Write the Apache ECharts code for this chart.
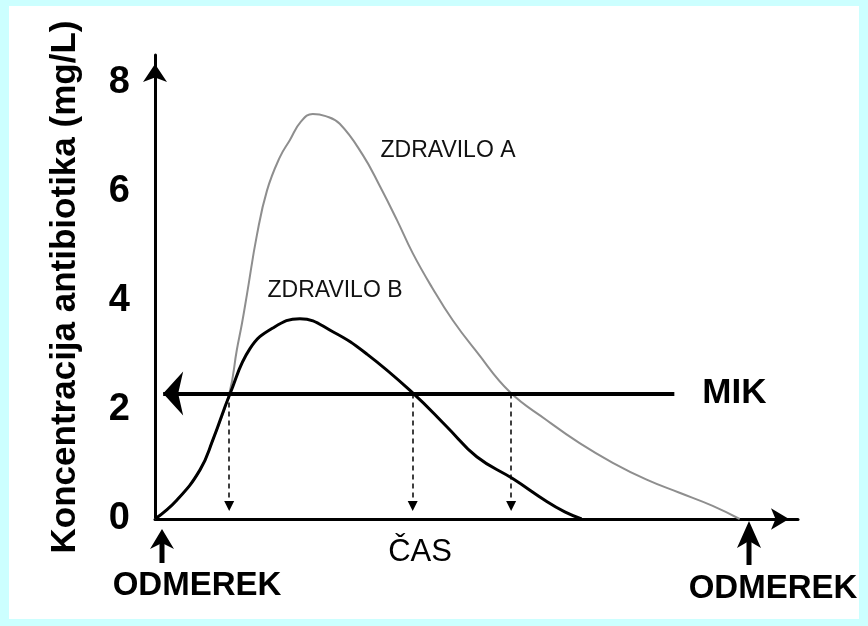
<!DOCTYPE html>
<html>
<head>
<meta charset="utf-8">
<script src="https://cdn.jsdelivr.net/npm/echarts@6/dist/echarts.min.js"></script>
<style>
  html, body { margin: 0; padding: 0; background: #ccffff; }
  #paper { position: absolute; left: 9px; top: 6px; width: 850px; height: 613px; background: #fff; }
  #chart { position: absolute; left: 0; top: 0; width: 868px; height: 626px; }
</style>
</head>
<body>
<div id="paper"></div>
<div id="chart"></div>
<script>
// čas (h) in koncentracija (mg/L), odčitano s slike
const tA = [0, 0.89, 1.82, 2.34, 3.0, 3.31, 3.52, 3.72, 4.12, 4.53, 5.05, 5.45, 5.9, 6.38, 6.9, 7.47, 8.40, 9.09, 9.78, 10.42, 11.19, 12.04, 13.01, 14.34, 15.84, 17.17, 18.51, 19.88, 21.21, 22.55, 23.64]
const cA = [0, 0.35, 0.90, 1.45, 2.29, 3.10, 3.59, 4.12, 5.20, 6.02, 6.63, 6.94, 7.28, 7.42, 7.38, 7.24, 6.67, 6.10, 5.48, 4.87, 4.25, 3.64, 3.06, 2.33, 1.81, 1.39, 1.03, 0.72, 0.48, 0.24, 0]
const tB = [0, 0.89, 1.82, 2.34, 3.03, 3.84, 4.77, 5.86, 7.19, 8.57, 10.42, 11.80, 13.01, 14.46, 15.84, 16.57, 17.25]
const cB = [0, 0.35, 0.90, 1.45, 2.29, 3.12, 3.50, 3.67, 3.43, 3.02, 2.31, 1.69, 1.14, 0.74, 0.32, 0.13, 0]
const yTicks = [0, 2, 4, 6, 8]
const mik = 2.3                  // MIK
const mikSpan = [0.33, 21.0]     // od puščice do konca črte
const crossings = [3.0, 10.42, 14.4] // kjer krivulji sekata MIK
const arrowEnd = 0.24

const toXY = (ts, cs) => ts.map((t, i) => [t, cs[i]])

const chart = echarts.init(document.getElementById('chart'), null, { renderer: 'canvas' })

const bold = (size) => ({ fontFamily: 'Liberation Sans, Arial, sans-serif', fontWeight: 'bold', fontSize: size, fill: '#000' })

chart.setOption({
  animation: false,
  backgroundColor: 'transparent',
  grid: { left: 155, right: 70, top: 55, bottom: 107 },
  xAxis: {
    type: 'value',
    min: 0,
    max: 26,
    axisLine: {
      lineStyle: { color: '#000', width: 3 },
      symbol: ['none', 'arrow'],
      symbolSize: [16, 18],
      symbolOffset: [0, -9]
    },
    axisTick: { show: false },
    axisLabel: { show: false },
    splitLine: { show: false }
  },
  yAxis: {
    type: 'value',
    min: 0,
    max: 8.5,
    interval: 2,
    name: 'Koncentracija antibiotika (mg/L)',
    nameLocation: 'middle',
    nameGap: 72,
    nameTextStyle: { fontFamily: 'Liberation Sans, Arial, sans-serif', fontWeight: 'bold', fontSize: 35, color: '#000' },
    axisLine: {
      show: true,
      lineStyle: { color: '#000', width: 3 },
      symbol: ['none', 'arrow'],
      symbolSize: [18, 18],
      symbolOffset: [0, -9]
    },
    axisTick: { show: false },
    axisLabel: {
      margin: 25,
      showMaxLabel: false,
      fontFamily: 'Liberation Sans, Arial, sans-serif',
      fontWeight: 'bold',
      fontSize: 38,
      color: '#000',
      formatter: (v) => yTicks.includes(v) ? String(v) : ''
    },
    splitLine: { show: false }
  },
  series: [
    {
      name: 'ZDRAVILO A',
      type: 'line',
      data: toXY(tA, cA),
      smooth: 0.45,
      showSymbol: false,
      lineStyle: { color: '#8e8e8e', width: 2 },
      z: 2
    },
    {
      name: 'ZDRAVILO B',
      type: 'line',
      data: toXY(tB, cB),
      smooth: 0.45,
      showSymbol: false,
      lineStyle: { color: '#000', width: 3 },
      z: 3,
      markLine: {
        silent: true,
        animation: false,
        data: [
          [
            { coord: [mikSpan[1], mik], symbol: 'none' },
            {
              coord: [mikSpan[0], mik], symbol: 'arrow', symbolSize: [33, 20],
              lineStyle: { color: '#000', width: 4, type: 'solid' },
              label: {
                show: true, position: 'start', distance: 28, formatter: 'MIK',
                fontFamily: 'Liberation Sans, Arial, sans-serif', fontWeight: 'bold', fontSize: 35, color: '#000'
              }
            }
          ],
          ...crossings.map(t => [
            { coord: [t, mik], symbol: 'none' },
            {
              coord: [t, arrowEnd], symbol: 'triangle', symbolSize: [10, 10],
              lineStyle: { color: '#000', width: 1.5, type: [5, 4] },
              label: { show: false }
            }
          ])
        ]
      }
    }
  ],
  graphic: [
    { type: 'text', x: 448, y: 151, style: { text: 'ZDRAVILO A', font: '23px "Liberation Sans", Arial, sans-serif', fill: '#111', align: 'center', verticalAlign: 'middle' } },
    { type: 'text', x: 335, y: 291, style: { text: 'ZDRAVILO B', font: '23px "Liberation Sans", Arial, sans-serif', fill: '#111', align: 'center', verticalAlign: 'middle' } },
    { type: 'text', x: 420, y: 552, style: { text: 'ČAS', font: '31px "Liberation Sans", Arial, sans-serif', fill: '#000', align: 'center', verticalAlign: 'middle' } },
    { type: 'text', x: 197, y: 586, style: Object.assign(bold(33), { text: 'ODMEREK', align: 'center', verticalAlign: 'middle' }) },
    { type: 'text', x: 773, y: 589, style: Object.assign(bold(33), { text: 'ODMEREK', align: 'center', verticalAlign: 'middle' }) },
    // puščici pri odmerkih
    { type: 'rect', shape: { x: 159.5, y: 540, width: 5, height: 23 }, style: { fill: '#000' } },
    { type: 'polygon', shape: { points: [[162, 529], [174, 549], [162, 543], [150, 549]] }, style: { fill: '#000' } },
    { type: 'rect', shape: { x: 746.5, y: 532, width: 5, height: 33 }, style: { fill: '#000' } },
    { type: 'polygon', shape: { points: [[749, 521], [761, 548], [749, 541], [737, 548]] }, style: { fill: '#000' } }
  ]
})

window.addEventListener('resize', () => chart.resize())
</script>
</body>
</html>
